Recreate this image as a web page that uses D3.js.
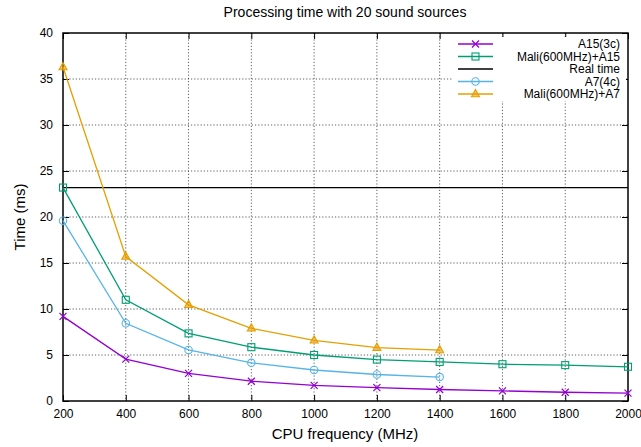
<!DOCTYPE html>
<html>
<head>
<meta charset="utf-8">
<script src="https://cdn.jsdelivr.net/npm/d3@7"></script>
<style>
  body { margin: 0; background: #fff; }
  svg { font-family: "Liberation Sans", Arial, sans-serif; }
</style>
</head>
<body>
<div id="chart-area"></div>
<script>
// data
var freqs = [200, 400, 600, 800, 1000, 1200, 1400, 1600, 1800, 2000];
var a15 = [9.2, 4.55, 3.0, 2.15, 1.7, 1.45, 1.25, 1.1, 0.95, 0.85];
var maliA15 = [23.2, 11.0, 7.35, 5.85, 5.0, 4.5, 4.25, 4.0, 3.9, 3.72];
var a7 = [19.6, 8.45, 5.55, 4.15, 3.37, 2.88, 2.6];
var maliA7 = [36.3, 15.7, 10.45, 7.9, 6.6, 5.8, 5.53];
var realTime = 23.2;
var xTicks = [200, 400, 600, 800, 1000, 1200, 1400, 1600, 1800, 2000];
var yTicks = [0, 5, 10, 15, 20, 25, 30, 35, 40];

var margin = {top: 33, right: 13, bottom: 46, left: 63},
    width = 641 - margin.left - margin.right,
    height = 447 - margin.top - margin.bottom;

var svg = d3.select("#chart-area")
  .append("svg")
    .attr("width", 641)
    .attr("height", 447);

var g = svg.append("g")
    .attr("transform", "translate(" + margin.left + "," + margin.top + ")");

var x = d3.scaleLinear().domain([200, 2000]).range([0, width]);
var y = d3.scaleLinear().domain([0, 40]).range([height, 0]);

// grid
g.selectAll(".vgrid").data(xTicks.slice(1, -1)).enter()
  .append("line")
    .attr("x1", d => x(d)).attr("x2", d => x(d))
    .attr("y1", 0).attr("y2", height)
    .attr("stroke", "#333").attr("stroke-width", 0.8)
    .attr("stroke-dasharray", "1.2,2");
g.selectAll(".hgrid").data(yTicks.slice(1, -1)).enter()
  .append("line")
    .attr("y1", d => y(d)).attr("y2", d => y(d))
    .attr("x1", 0).attr("x2", width)
    .attr("stroke", "#333").attr("stroke-width", 0.8)
    .attr("stroke-dasharray", "1.2,2");

// axes (ticks point inward, mirrored)
g.append("g")
  .attr("transform", "translate(0," + height + ")")
  .call(d3.axisBottom(x).tickValues(xTicks).tickFormat(d3.format("d")).tickSizeInner(-6).tickSizeOuter(0).tickPadding(8))
  .call(a => a.select(".domain").remove())
  .selectAll("text").style("font-size", "12px").attr("fill", "#000");
g.append("g")
  .call(d3.axisTop(x).tickValues(xTicks).tickSizeInner(-6).tickSizeOuter(0).tickFormat(""))
  .call(a => a.select(".domain").remove());
g.append("g")
  .call(d3.axisLeft(y).tickValues(yTicks).tickSizeInner(-6).tickSizeOuter(0).tickPadding(10))
  .call(a => a.select(".domain").remove())
  .selectAll("text").style("font-size", "12px").attr("fill", "#000");
g.append("g")
  .attr("transform", "translate(" + width + ",0)")
  .call(d3.axisRight(y).tickValues(yTicks).tickSizeInner(-6).tickSizeOuter(0).tickFormat(""))
  .call(a => a.select(".domain").remove());

g.append("rect")
  .attr("width", width).attr("height", height)
  .attr("fill", "none").attr("stroke", "#000").attr("stroke-width", 1.5);

// real time line
g.append("line")
  .attr("x1", 0).attr("x2", width)
  .attr("y1", y(realTime)).attr("y2", y(realTime))
  .attr("stroke", "#000").attr("stroke-width", 1.2);

var series = [
  {name: "A15(3c)", values: a15, color: "#9400d3", marker: "cross"},
  {name: "Mali(600MHz)+A15", values: maliA15, color: "#009e73", marker: "square"},
  {name: "Real time", values: null, color: "#000", marker: null},
  {name: "A7(4c)", values: a7, color: "#56b4e9", marker: "circle"},
  {name: "Mali(600MHz)+A7", values: maliA7, color: "#e69f00", marker: "triangle"}
];

function drawMarker(sel, type, color) {
  if (type == "cross") {
    sel.append("path").attr("d", "M-3.5,-3.5L3.5,3.5M-3.5,3.5L3.5,-3.5")
      .attr("stroke", color).attr("stroke-width", 1.2).attr("fill", "none");
  } else if (type == "square") {
    sel.append("rect").attr("x", -3.5).attr("y", -3.5).attr("width", 7).attr("height", 7)
      .attr("stroke", color).attr("stroke-width", 1.1).attr("fill", "none");
  } else if (type == "circle") {
    sel.append("circle").attr("r", 3.7)
      .attr("stroke", color).attr("stroke-width", 1.1).attr("fill", "none");
  } else if (type == "triangle") {
    sel.append("path").attr("d", "M0,-4.5L4,2.7L-4,2.7Z")
      .attr("stroke", color).attr("stroke-width", 1.1).attr("fill", color).attr("fill-opacity", 0.6);
  }
}

var line = d3.line().x(d => x(d[0])).y(d => y(d[1]));

series.forEach(function(s) {
  if (!s.values) return;
  var pts = s.values.map((v, i) => [freqs[i], v]);
  g.append("path")
    .datum(pts)
    .attr("d", line)
    .attr("fill", "none")
    .attr("stroke", s.color)
    .attr("stroke-width", 1.3);
  g.selectAll(null).data(pts).enter()
    .append("g")
    .attr("transform", d => "translate(" + x(d[0]) + "," + y(d[1]) + ")")
    .each(function() { drawMarker(d3.select(this), s.marker, s.color); });
});

// legend with opaque background
var leg = svg.append("g");
leg.append("rect")
  .attr("x", 452).attr("y", 37).attr("width", 174).attr("height", 64)
  .attr("fill", "#fff");
series.forEach(function(s, i) {
  var ly = 44 + i * 12.5;
  leg.append("line")
    .attr("x1", 458).attr("x2", 493).attr("y1", ly).attr("y2", ly)
    .attr("stroke", s.color).attr("stroke-width", 1.3);
  if (s.marker) {
    var m = leg.append("g").attr("transform", "translate(475.5," + ly + ")");
    drawMarker(m, s.marker, s.color);
  }
  leg.append("text")
    .attr("x", 620).attr("y", ly + 4)
    .attr("text-anchor", "end")
    .style("font-size", "12px")
    .text(s.name);
});

// titles
svg.append("text")
  .attr("x", 345).attr("y", 17)
  .attr("text-anchor", "middle")
  .style("font-size", "14px")
  .text("Processing time with 20 sound sources");
svg.append("text")
  .attr("x", 345).attr("y", 439)
  .attr("text-anchor", "middle")
  .style("font-size", "15px")
  .text("CPU frequency (MHz)");
svg.append("text")
  .attr("transform", "translate(25," + (margin.top + height / 2) + ") rotate(-90)")
  .attr("text-anchor", "middle")
  .style("font-size", "15px")
  .text("Time (ms)");
</script>
</body>
</html>
